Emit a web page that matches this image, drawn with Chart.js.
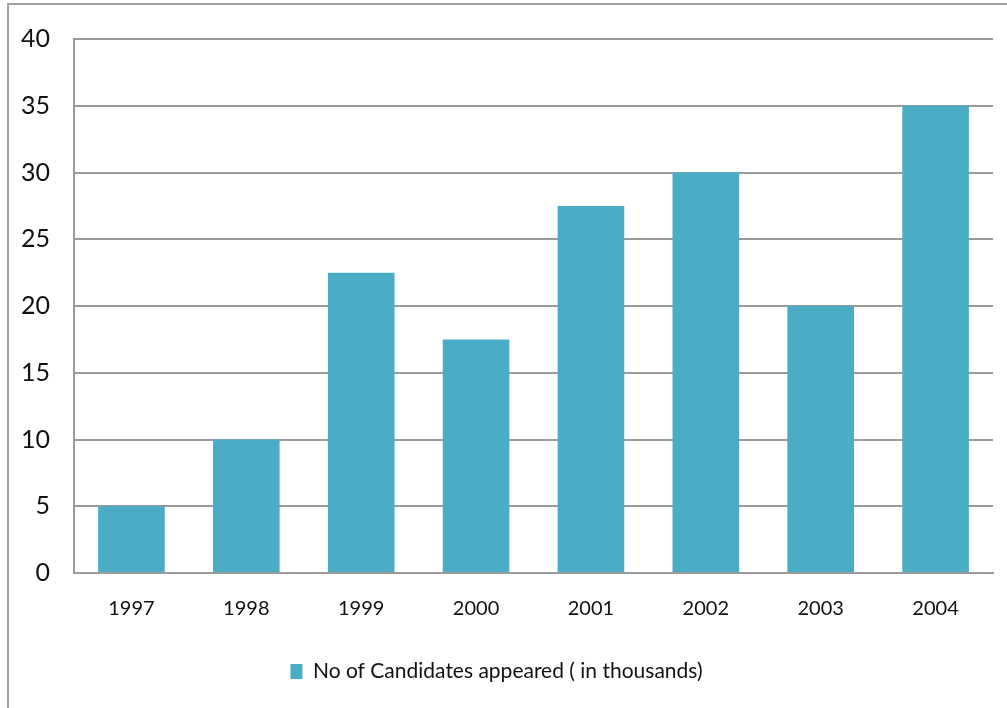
<!DOCTYPE html>
<html>
<head>
<meta charset="utf-8">
<script src="https://cdn.jsdelivr.net/npm/chart.js@4.4.1/dist/chart.umd.min.js"></script>
<style>
  html, body { margin: 0; padding: 0; background: #fff; }
  #wrap { position: relative; width: 1007px; height: 708px; overflow: hidden; }
  #frame { position: absolute; left: 7px; top: 3px; width: 1020px; height: 720px;
           border-left: 2px solid #a0a0a0; border-top: 2px solid #a0a0a0; }
  canvas { position: absolute; left: 0; top: 0; }
</style>
</head>
<body>
<div id="wrap">
  <div id="frame"></div>
  <canvas id="chart" width="1007" height="708"></canvas>
</div>
<script>
// data
const years = ['1997', '1998', '1999', '2000', '2001', '2002', '2003', '2004'];
const candidates = [5, 10, 22.5, 17.5, 27.5, 30, 20, 35];
const seriesLabel = 'No of Candidates appeared ( in thousands)';

const gridColor = '#9a9a9a';

new Chart(document.getElementById('chart'), {
    type: 'bar',
    data: {
        labels: years,
        datasets: [{
            label: seriesLabel,
            data: candidates,
            backgroundColor: '#4BACC6',
            barPercentage: 0.58,
            categoryPercentage: 1
        }]
    },
    options: {
        responsive: false,
        animation: false,
        layout: { padding: { top: 33, right: 14, bottom: 16, left: 0 } },
        plugins: {
            tooltip: { enabled: false },
            legend: {
                position: 'bottom',
                labels: {
                    boxWidth: 12,
                    boxHeight: 15,
                    padding: 10,
                    color: '#111',
                    font: { family: 'Lato', size: 21 }
                }
            }
        },
        scales: {
            x: {
                grid: { display: false, drawTicks: false },
                border: { color: gridColor, width: 2 },
                ticks: { color: '#111', padding: 24, font: { family: 'Lato', size: 20 } },
                afterFit: (s) => { s.height = 78; }
            },
            y: {
                min: 0,
                max: 40,
                grid: { color: gridColor, lineWidth: 2, drawTicks: false },
                border: { color: gridColor, width: 2 },
                ticks: { stepSize: 5, color: '#111', padding: 24, font: { family: 'Lato', size: 25 } },
                afterFit: (s) => { s.width = 74; }
            }
        }
    }
});
</script>
</body>
</html>
